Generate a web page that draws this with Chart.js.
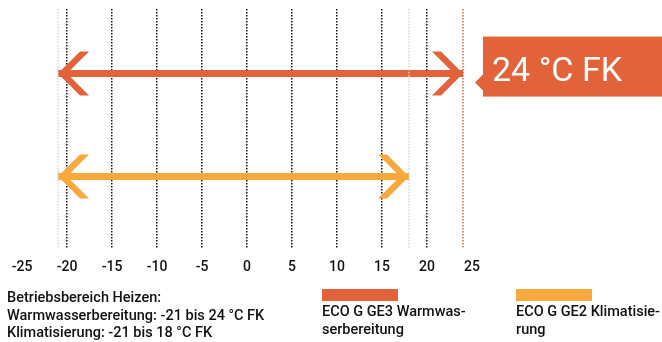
<!DOCTYPE html>
<html>
<head>
<meta charset="utf-8">
<script src="https://cdn.jsdelivr.net/npm/chart.js@4"></script>
<style>
  html, body { margin: 0; padding: 0; background: #fff; overflow: hidden; }
  #wrap { position: relative; width: 662px; height: 342px; overflow: hidden; font-family: Roboto, "Noto Sans", sans-serif; color: #111; }
  canvas { position: absolute; left: 0; top: 0; }
  .note { position: absolute; left: 7px; top: 289px; font-size: 14.5px; line-height: 17.5px; white-space: pre; font-weight: 500; }
  .item { position: absolute; top: 289px; width: 152px; font-size: 14.5px; line-height: 17.5px; font-weight: 500; }
  .item .bar { width: 76px; height: 12px; margin-bottom: 2px; }
</style>
</head>
<body>
<div id="wrap">
  <canvas id="chart" width="662" height="342"></canvas>
</div>
<script>
// x axis: Außentemperatur in °C FK
const xMin = -25;
const xMax = 25;
const xStep = 5;

// two operating ranges
const seriesNames = ["ECO G GE3 Warmwas\u00ADserbereitung", "ECO G GE2 Klimatisie\u00ADrung"];
const rangeFrom = [-21, -21];
const rangeTo = [24, 18];
const rowY = [7.3, 3.0];
const colors = ["#E2623A", "#F8A93D"];

const calloutText = "24 °C FK";
const noteLines = [
  "Betriebsbereich Heizen:",
  "Warmwasserbereitung: -21 bis 24 °C FK",
  "Klimatisierung: -21 bis 18 °C FK"
];

const datasets = seriesNames.map((name, i) => ({
  label: name,
  data: [{ x: rangeFrom[i], y: rowY[i] }, { x: rangeTo[i], y: rowY[i] }],
  borderColor: colors[i],
  backgroundColor: colors[i],
  borderWidth: 7,
  borderCapStyle: "butt",
  pointRadius: 0,
  showLine: true
}));

// chevron heads on both ends of every range
const arrowHeads = {
  id: "arrowHeads",
  afterDatasetsDraw(chart) {
    const ctx = chart.ctx;
    const h = 22, w = 9;
    chart.data.datasets.forEach((ds, i) => {
      const pts = chart.getDatasetMeta(i).data;
      [[pts[0], 1], [pts[pts.length - 1], -1]].forEach(([p, dir]) => {
        const x = p.x, y = p.y;
        ctx.save();
        ctx.fillStyle = ds.borderColor;
        ctx.beginPath();
        ctx.moveTo(x, y);
        ctx.lineTo(x + dir * h, y - h);
        ctx.lineTo(x + dir * (h + w), y - h);
        ctx.lineTo(x + dir * w, y);
        ctx.lineTo(x + dir * (h + w), y + h);
        ctx.lineTo(x + dir * h, y + h);
        ctx.closePath();
        ctx.fill();
        ctx.restore();
      });
    });
  },
  afterDraw(chart) {
    const ctx = chart.ctx;
    const xs = chart.scales.x;
    const area = chart.chartArea;
    // dotted marker lines at the range limits
    const marks = [
      [rangeFrom[0], "#d6d6d6"],
      [rangeTo[1], "#d6d6d6"],
      [rangeTo[0], colors[0]]
    ];
    ctx.save();
    ctx.lineWidth = 1.5;
    ctx.setLineDash([1.5, 1.5]);
    marks.forEach(([v, c]) => {
      const px = xs.getPixelForValue(v);
      ctx.strokeStyle = c;
      ctx.beginPath();
      ctx.moveTo(px, area.top);
      ctx.lineTo(px, area.bottom);
      ctx.stroke();
    });
    ctx.restore();

    // callout box for the upper limit
    const p = chart.getDatasetMeta(0).data[1];
    const bx = p.x + 20;
    const top = p.y - 37, bottom = p.y + 23;
    ctx.save();
    ctx.fillStyle = colors[0];
    ctx.fillRect(bx, top, chart.width - bx, bottom - top);
    ctx.beginPath();
    ctx.moveTo(bx - 8, p.y + 9);
    ctx.lineTo(bx, p.y + 1);
    ctx.lineTo(bx, p.y + 17);
    ctx.closePath();
    ctx.fill();
    ctx.fillStyle = "#fff";
    ctx.font = "34px Roboto, sans-serif";
    ctx.textBaseline = "alphabetic";
    ctx.fillText(calloutText, bx + 9, p.y + 7);
    ctx.restore();
  }
};

new Chart(document.getElementById("chart"), {
  type: "scatter",
  data: { datasets },
  options: {
    responsive: false,
    animation: false,
    devicePixelRatio: 1,
    layout: { padding: { left: 22, right: 190, top: 9, bottom: 55 } },
    plugins: { legend: { display: false }, tooltip: { enabled: false } },
    scales: {
      x: {
        type: "linear",
        min: xMin,
        max: xMax,
        z: 1,
        ticks: {
          stepSize: xStep,
          padding: 11,
          color: "#111",
          font: { family: "Roboto", size: 14, weight: "500" }
        },
        grid: {
          drawTicks: false,
          lineWidth: 1.5,
          color: c => (c.tick && (c.tick.value === xMin || c.tick.value === xMax)) ? "rgba(0,0,0,0)" : "#111"
        },
        border: { display: false, dash: [1.5, 1.5] }
      },
      y: { type: "linear", min: 0, max: 10, display: false }
    }
  },
  plugins: [arrowHeads]
});

// notes and legend as text below the chart
const wrap = document.getElementById("wrap");
const note = document.createElement("div");
note.className = "note";
note.textContent = noteLines.join("\n");
wrap.appendChild(note);

const legendLeft = [322, 516];
seriesNames.forEach((name, i) => {
  const it = document.createElement("div");
  it.className = "item";
  it.style.left = legendLeft[i] + "px";
  it.innerHTML = '<div class="bar" style="background:' + colors[i] + '"></div>';
  const t = document.createElement("div");
  t.textContent = name;
  it.appendChild(t);
  wrap.appendChild(it);
});
</script>
</body>
</html>
